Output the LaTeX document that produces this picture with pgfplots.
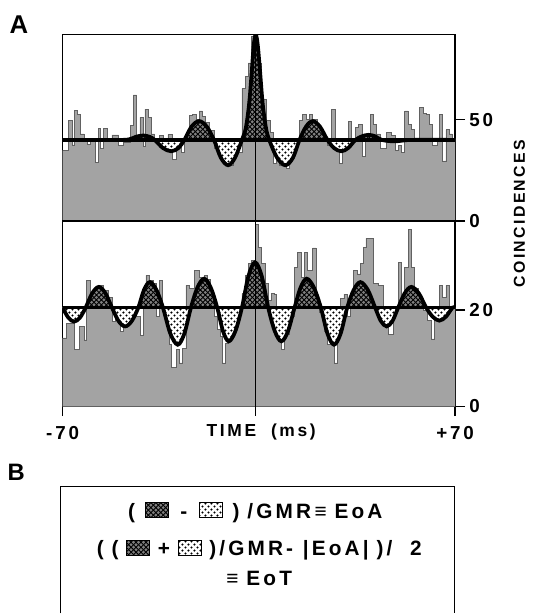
\documentclass[border=0pt]{standalone}
\usepackage{fontspec}
\setmainfont{Liberation Sans}
\newfontfamily\lsfont[LetterSpace=15]{Liberation Sans}
\usepackage{pgfplots}
\usepackage{pgfplotstable}
\pgfplotsset{compat=1.18}
\usetikzlibrary{patterns.meta}

\tikzdeclarepattern{
  name=xhatch,
  type=uncolored,
  bottom left={(-0.1pt,-0.1pt)},
  top right={(2.6pt,2.6pt)},
  tile size={(2.5pt,2.5pt)},
  code={\draw[line width=0.45pt] (0,0) -- (2.5pt,2.5pt) (0,2.5pt) -- (2.5pt,0);}
}
\tikzdeclarepattern{
  name=bigdots,
  type=uncolored,
  bottom left={(0pt,0pt)},
  top right={(3pt,3pt)},
  tile size={(3pt,3pt)},
  code={\fill (0.75pt,0.75pt) circle (0.6pt); \fill (2.25pt,2.25pt) circle (0.6pt);}
}

% histogram, upper correlogram (bin left edge, count)
\pgfplotstableread{
t v
-70.00 34.9
-67.89 49.5
-66.71 37.5
-65.89 54.4
-64.72 52.8
-63.55 43.0
-62.37 40.6
-61.20 37.8
-60.03 40.0
-58.27 28.9
-57.33 45.7
-56.50 36.0
-55.33 45.7
-54.16 40.0
-52.40 42.5
-50.05 37.3
-48.29 39.0
-45.94 47.3
-44.77 62.2
-43.60 41.9
-42.42 51.1
-41.25 36.6
-40.66 55.2
-39.49 51.1
-38.32 43.0
-37.14 40.0
-35.38 42.4
-34.21 39.0
-32.45 42.6
-30.69 30.3
-29.52 40.6
-27.75 34.0
-26.58 40.6
-24.82 52.3
-23.65 52.7
-22.47 50.2
-21.30 54.3
-20.13 51.8
-18.95 48.6
-17.78 44.5
-16.02 36.0
-14.26 31.0
-11.33 27.5
-8.98 34.0
-6.04 65.3
-4.87 71.5
-3.70 78.0
-2.52 91.0
-1.35 88.0
-0.18 78.0
1.00 60.0
2.76 49.5
3.93 43.8
5.10 28.4
6.28 31.0
7.45 27.5
9.80 25.8
10.97 32.5
12.73 40.0
14.49 49.5
15.67 52.8
16.84 50.2
18.01 52.8
19.19 50.2
20.95 45.7
22.71 40.0
24.47 37.3
26.00 55.2
27.17 40.5
28.57 28.4
29.75 37.0
31.86 49.0
33.03 40.5
34.44 46.0
35.62 47.6
36.79 31.7
37.96 42.0
38.90 40.0
39.72 52.8
40.89 47.6
42.07 43.0
43.24 36.0
45.59 43.8
47.35 42.4
48.52 35.0
49.70 37.3
50.87 34.0
52.04 54.3
53.22 47.6
54.39 45.0
55.56 40.0
57.32 56.0
58.50 53.2
59.67 52.7
60.84 47.6
62.02 37.3
63.78 40.0
64.36 52.8
65.54 29.6
66.71 45.0
67.89 43.0
69.06 40.6
70.00 40.6
}\tophist

% fitted curve, upper correlogram
\pgfplotstableread{
t v
-70 40
-51.2 40
-46.5 40.2
-43.95 41.5
-41.25 42.2
-38.9 41.5
-37.14 40
-34.21 36
-31.28 34.4
-28.69 36
-26.58 40
-24.0 46.6
-21.3 49.3
-18.6 46.6
-16.02 40
-13.55 31.2
-10.97 27.5
-8.51 31.2
-6.04 40
-4.64 46
-3.46 58
-2.52 74
-1.82 87
-1.12 92
-0.41 87
0.41 74
1.35 58
2.52 46
3.7 40
6.51 31.2
9.45 27.5
12.15 31.2
14.49 40
16.84 46.6
19.19 49.3
21.77 46.6
24.47 40
26.81 36
29.39 34.4
31.86 36
34.44 40
36.79 41.8
39.14 42.5
41.48 41.8
43.83 40
48.52 39.3
54.39 40
70 40
}\topfit

% histogram, lower correlogram
\pgfplotstableread{
t v
-70.00 14.2
-68.59 17.3
-65.89 11.8
-63.90 16.6
-62.37 13.8
-61.55 26.2
-60.03 23.1
-58.27 24.4
-57.09 25.1
-55.33 24.1
-53.57 22.7
-52.40 17.6
-51.22 18.6
-49.46 15.5
-48.29 16.6
-47.12 17.9
-45.36 20.0
-43.60 18.6
-42.42 14.7
-41.25 22.0
-40.31 27.2
-39.14 26.2
-37.73 25.5
-36.56 18.6
-35.62 26.2
-34.44 20.0
-33.03 16.6
-31.86 12.8
-31.28 8.0
-29.52 11.8
-28.34 9.0
-27.17 12.1
-26.00 25.1
-24.82 24.4
-23.06 28.2
-21.30 26.8
-19.54 27.2
-18.37 26.3
-17.19 22.7
-16.02 18.6
-14.85 15.9
-13.67 14.5
-12.85 9.0
-11.91 13.1
-10.74 14.5
-8.98 16.6
-7.22 20.0
-6.04 23.4
-4.87 27.2
-3.70 29.6
-2.52 30.3
-1.35 37.8
-0.18 33.0
1.00 29.6
2.17 25.5
3.34 22.0
4.52 23.4
5.69 23.3
6.28 18.6
7.45 14.5
8.04 11.8
9.21 15.0
10.97 18.6
12.73 28.9
13.90 32.0
15.08 26.8
16.25 32.0
17.43 28.2
19.19 32.9
20.36 22.0
21.53 19.6
23.29 15.5
24.47 12.8
25.64 13.1
26.81 9.0
27.99 18.6
29.16 22.4
30.33 23.3
31.51 18.6
32.68 23.4
33.86 28.2
35.03 27.5
36.20 29.6
37.38 33.0
38.20 34.9
39.72 34.9
40.89 25.5
42.65 25.1
44.41 20.0
46.17 14.9
47.93 20.0
49.70 29.9
50.87 22.7
52.04 28.9
53.22 36.8
54.39 28.9
55.56 24.4
56.74 22.4
58.50 20.0
60.26 17.9
61.44 14.0
62.61 20.0
64.36 25.1
65.54 22.7
66.71 25.1
67.89 20.0
69.06 20.5
70.00 20.5
}\bothist

% fitted curve, lower correlogram
\pgfplotstableread{
t v
-70 20.5
-67.95 18.4
-65.89 17.6
-63.84 18.4
-61.79 20.5
-59.44 23.5
-57.09 24.8
-54.75 23.5
-52.40 20.5
-50.05 17.7
-47.70 16.6
-45.36 17.7
-43.01 20.5
-40.96 24.2
-38.90 25.8
-36.56 24.2
-34.21 20.5
-31.57 15.1
-28.93 12.8
-26.58 15.1
-24.23 20.5
-21.89 24.7
-19.54 26.5
-17.19 24.7
-14.85 20.5
-12.79 15.6
-10.74 13.5
-8.39 15.6
-6.04 20.5
-3.70 27.1
-1.35 29.9
1.00 27.1
3.34 20.5
5.69 15.6
8.04 13.5
10.38 15.6
12.73 20.5
14.90 24.7
17.07 26.5
19.60 24.7
22.12 20.5
24.47 15.1
26.81 12.8
29.16 15.1
31.51 20.5
33.86 24.2
36.20 25.8
38.84 24.2
41.48 20.5
43.53 17.7
45.59 16.6
47.64 17.7
49.70 20.5
52.04 23.5
54.39 24.8
57.03 23.5
59.67 20.5
62.02 18.6
64.36 17.8
66.71 18.6
69.06 20.5
70 20.5
}\botfit

\pgfplotsset{
  panel/.style={
    scale only axis, width=198.35pt,
    xmin=-70, xmax=70,
    axis line style={line width=0.65pt},
    ytick pos=right, yticklabel pos=right,
    tick align=outside, major tick length=5pt,
    tick style={line width=0.65pt, black},
    yticklabel style={font=\lsfont\bfseries\fontsize{9.5}{10}\selectfont, inner xsep=2pt},
    xticklabel style={font=\lsfont\bfseries\fontsize{9.5}{10}\selectfont},
  },
  hist/.style={const plot mark left, draw=black!62, line width=0.35pt, fill=black!36},
  fit/.style={smooth, tension=0.55, line width=1.9pt, black},
}

\newcommand{\swx}{\tikz[baseline=-0.3pt]\draw[line width=0.4pt, fill=black!50, postaction={pattern=xhatch}] (0,0) rectangle (11.5pt,7.5pt);}
\newcommand{\swd}{\tikz[baseline=-0.3pt]\draw[line width=0.4pt, fill=white, postaction={pattern=bigdots}] (0,0) rectangle (11.5pt,7.5pt);}

\begin{document}
\begin{tikzpicture}
\begin{scope}[x=0.5pt,y=-0.5pt]
\path[use as bounding box] (0,0) rectangle (539,614);
\end{scope}

% upper correlogram
\begin{axis}[panel, at={(31.65pt,-111.65pt)}, anchor=south west,
  height=94.15pt, ymin=0, ymax=92, xtick=\empty,
  ytick={0,50}, yticklabels={0,50}]
\addplot[hist] table {\tophist} \closedcycle;
\begin{scope}
\clip (axis cs:-70,40) rectangle (axis cs:70,100);
\addplot[draw=none, smooth, tension=0.55, fill=black!50, postaction={pattern=xhatch}] table {\topfit};
\end{scope}
\begin{scope}
\clip (axis cs:-70,0) rectangle (axis cs:70,40);
\addplot[draw=none, smooth, tension=0.55, fill=white, postaction={pattern=bigdots}] table {\topfit};
\end{scope}
\addplot[line width=1.9pt, black] coordinates {(-70,40) (70,40)};
\addplot[fit] table {\topfit};
\end{axis}

% lower correlogram
\begin{axis}[panel, at={(31.65pt,-205.35pt)}, anchor=south west,
  height=93.7pt, ymin=0, ymax=38.5,
  xtick={-70,70}, xticklabels={-70,+70}, xtick pos=left,
  xticklabel style={yshift=-1.5pt},
  ytick={0,20}, yticklabels={0,20}]
\addplot[hist] table {\bothist} \closedcycle;
\begin{scope}
\clip (axis cs:-70,20.5) rectangle (axis cs:70,50);
\addplot[draw=none, smooth, tension=0.55, fill=black!50, postaction={pattern=xhatch}] table {\botfit};
\end{scope}
\begin{scope}
\clip (axis cs:-70,0) rectangle (axis cs:70,20.5);
\addplot[draw=none, smooth, tension=0.55, fill=white, postaction={pattern=bigdots}] table {\botfit};
\end{scope}
\addplot[line width=1.9pt, black] coordinates {(-70,20.5) (70,20.5)};
\addplot[fit] table {\botfit};
\end{axis}

\begin{scope}[x=0.5pt,y=-0.5pt]
% zero-lag line
\draw[line width=0.7pt] (258.3,35) -- (258.3,420.7);
% labels of panel A
\node[font=\bfseries\fontsize{13}{14}\selectfont] at (19,25) {A};
\node[font=\lsfont\bfseries\fontsize{8.8}{9}\selectfont] at (264,437) {TIME\ \ (ms)};
\node[font=\lsfont\bfseries\fontsize{8}{9}\selectfont, rotate=90] at (525,216) {COINCIDENCES};
% panel B
\node[font=\bfseries\fontsize{12}{13}\selectfont] at (16.5,477) {B};
\draw[line width=0.6pt] (61,620) -- (61,491.5) -- (459,491.5) -- (459,620);
\node[font=\lsfont\bfseries\fontsize{10.5}{11}\selectfont] at (258,518)
  {(\hspace{5pt}\swx\hspace{6pt}-\hspace{6pt}\swd\hspace{5pt})\hspace{4pt}/GMR\,≡\hspace{4pt}EoA};
\node[font=\lsfont\bfseries\fontsize{10.5}{11}\selectfont] at (262,556)
  {(\hspace{4pt}(\hspace{4pt}\swx\hspace{4pt}+\hspace{4pt}\swd\hspace{4pt})/GMR-\hspace{5pt}|EoA|\hspace{4pt})/\hspace{9pt}2};
\node[font=\lsfont\bfseries\fontsize{10.5}{11}\selectfont] at (262,585) {≡\hspace{4pt}EoT};
\end{scope}
\end{tikzpicture}
\end{document}
